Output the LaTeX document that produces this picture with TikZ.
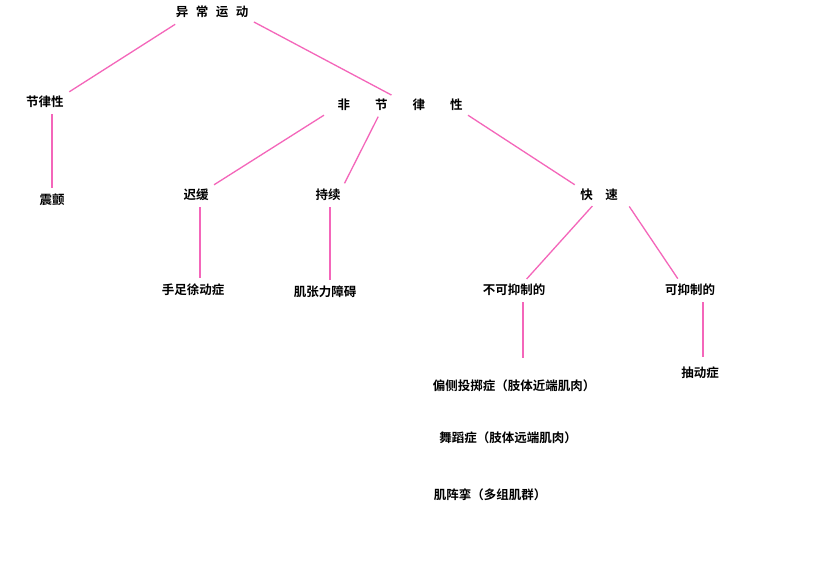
\documentclass[tikz,border=0pt]{standalone}
\usepackage{fontspec}
\newfontfamily\cjk{Noto Sans CJK SC}[BoldFont={Noto Sans CJK SC Bold}]
\begin{document}
\begin{tikzpicture}[x=1pt,y=-1pt]
\useasboundingbox[fill=white] (0,0) rectangle (828,576);
\tikzset{lbl/.style={font=\cjk\bfseries\fontsize{12.5}{14}\selectfont, inner sep=2pt},
 ln/.style={draw=magenta!60, line width=1.3pt, shorten >=4pt, shorten <=4pt}}
\node[lbl] (top) at (212,12) {异\hspace{0.6em}常\hspace{0.6em}运\hspace{0.6em}动};
\node[lbl] (rh) at (45,102) {节律性};
\node[lbl] (nr) at (400,105) {非\hspace{2em}节\hspace{2em}律\hspace{2em}性};
\node[lbl] (tr) at (52,200) {震颤};
\node[lbl] (sl) at (196,195) {迟缓};
\node[lbl] (cn) at (328,195) {持续};
\node[lbl] (fs) at (599,195) {快\hspace{1em}速};
\node[lbl] (at) at (193,290) {手足徐动症};
\node[lbl] (dy) at (325,292) {肌张力障碍};
\node[lbl] (ns) at (514,290) {不可抑制的};
\node[lbl] (sp) at (690,290) {可抑制的};
\node[lbl] (tic) at (700,373) {抽动症};
\node[lbl] (b1) at (514,386) {偏侧投掷症（肢体近端肌肉）};
\node[lbl] (b2) at (508,438) {舞蹈症（肢体远端肌肉）};
\node[lbl] (b3) at (490,495) {肌阵挛（多组肌群）};
\draw[ln] (top.south west) ++(5,2) coordinate (t1) (t1) -- (rh.north east);
\draw[ln] (top.south east) -- (nr.north west -| 395,0) ;
\draw[ln] (rh.south) ++(7,0) coordinate (r1) (r1) -- (tr.north);
\draw[ln] ([xshift=-8pt]nr.south west) -- (sl.north east);
\draw[ln] ([xshift=-20pt]nr.south) -- (cn.north east);
\draw[ln] (nr.south east) -- (fs.north west);
\draw[ln] ([xshift=4pt]sl.south) -- ([xshift=7pt]at.north);
\draw[ln] ([xshift=2pt]cn.south) -- ([xshift=5pt]dy.north);
\draw[ln] ([xshift=-4pt]fs.south) -- ([xshift=10pt]ns.north);
\draw[ln] ([xshift=28pt]fs.south) -- ([xshift=-10pt]sp.north);
\draw[ln, shorten >=20pt] ([xshift=9pt]ns.south) -- ([xshift=9pt]b1.north);
\draw[ln, shorten >=8pt] ([xshift=13pt]sp.south) -- ([xshift=3pt]tic.north);
\end{tikzpicture}
\end{document}
